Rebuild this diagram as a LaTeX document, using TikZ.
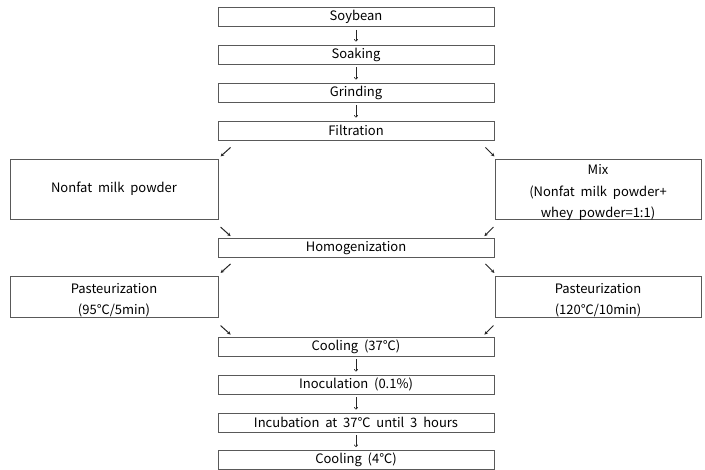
\documentclass[tikz,border=0pt]{standalone}
\usepackage{fontspec}
\setmainfont{Noto Sans CJK KR}
\usetikzlibrary{arrows.meta}
\newcommand{\degc}{℃}
\begin{document}
\begin{tikzpicture}[x=1pt,y=-1pt,
  box/.style={draw=black!65,line width=0.8pt,inner sep=0pt,align=center,
    font=\fontsize{13}{21.5}\selectfont,text=black},
  txt/.style={inner sep=0pt,align=center,font=\fontsize{13}{21.5}\selectfont,text=black},
  cbox/.style={box,minimum width=276pt,minimum height=19pt},
  lbox/.style={box,minimum width=208pt},
  rbox/.style={box,minimum width=206pt},
  down/.style={-{To[length=2.5pt,width=4pt]},line width=0.6pt,black!85},
  diag/.style={-{Stealth[length=3.5pt,width=3.5pt]},line width=1pt,black!85}]
\useasboundingbox[fill=white] (0,0) rectangle (705,470);
\node[cbox] (soy) at (356,17) {Soybean};
\node[cbox] (soak) at (356,54.5) {Soaking};
\node[cbox] (grind) at (356,92.5) {Grinding};
\node[cbox] (filt) at (356,130.5) {Filtration};
\node[lbox,minimum height=60pt] (nfm) at (114,189) {Nonfat~ milk~ powder};
\node[rbox,minimum height=60pt] (mix) at (598,189) {};
\node[txt] (mixt) at ([yshift=-3.5pt]mix.center) {Mix\\(Nonfat~ milk~ powder+\\whey~ powder=1:1)};
\node[cbox] (hom) at (356,248) {Homogenization};
\node[lbox,minimum height=41pt] (pl) at (114,297) {};
\node[txt] (plt) at ([yshift=-3pt]pl.center) {Pasteurization\\(95\degc/5min)};
\node[rbox,minimum height=41pt] (pr) at (598,297) {};
\node[txt] (prt) at ([yshift=-3pt]pr.center) {Pasteurization\\(120\degc/10min)};
\node[cbox] (cool) at (356,346.5) {Cooling~ (37\degc)};
\node[cbox] (inoc) at (356,384.5) {Inoculation~ (0.1\%)};
\node[cbox] (incub) at (356,422.5) {Incubation~ at~ 37\degc~ until~ 3~ hours};
\node[cbox] (cool4) at (356,460) {Cooling~ (4\degc)};
% vertical arrows
\foreach \a/\b in {soy/soak,soak/grind,grind/filt,cool/inoc,inoc/incub,incub/cool4}
  \draw[down] ([yshift=-3pt]\a.south) -- ([yshift=3pt]\b.north);
% diagonal arrows
\draw[diag] ([shift={(13,7)}]filt.south west) -- ([shift={(3,16)}]filt.south west);
\draw[diag] ([shift={(-9,7)}]filt.south east) -- ([shift={(0,16)}]filt.south east);
\draw[diag] ([shift={(3,-11)}]hom.north west) -- ([shift={(13,-2)}]hom.north west);
\draw[diag] ([shift={(-1,-11)}]hom.north east) -- ([shift={(-10,-2)}]hom.north east);
\draw[diag] ([shift={(13,6)}]hom.south west) -- ([shift={(3,15)}]hom.south west);
\draw[diag] ([shift={(-9,6)}]hom.south east) -- ([shift={(0,15)}]hom.south east);
\draw[diag] ([shift={(3,-11)}]cool.north west) -- ([shift={(13,-2)}]cool.north west);
\draw[diag] ([shift={(-1,-11)}]cool.north east) -- ([shift={(-10,-2)}]cool.north east);
\end{tikzpicture}
\end{document}
